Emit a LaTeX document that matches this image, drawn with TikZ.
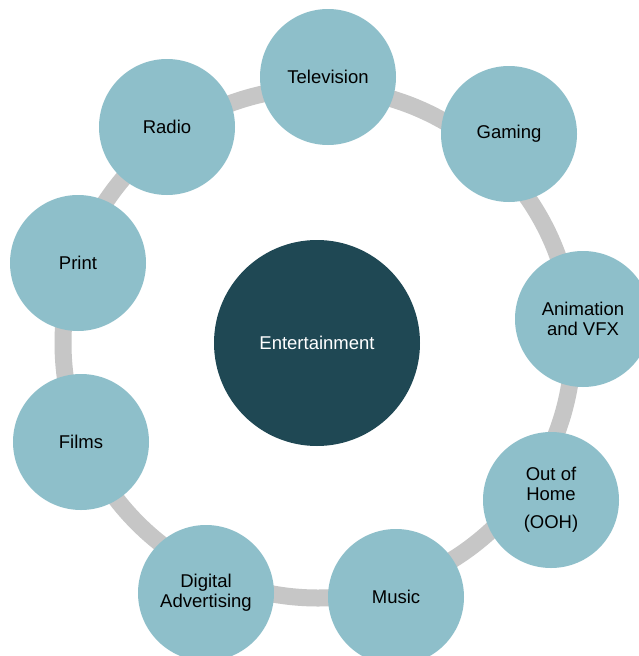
\documentclass[tikz,border=0pt]{standalone}
\usepackage{fontspec}
\setmainfont{Liberation Sans}
\definecolor{petal}{HTML}{8EBFCA}
\definecolor{hub}{HTML}{1F4854}
\definecolor{ringgray}{HTML}{C6C6C6}
\begin{document}
\begin{tikzpicture}[x=1pt,y=-1pt,
  petalnode/.style={circle,fill=petal,minimum size=136pt,inner sep=0pt,align=center,
    font=\fontsize{18.5}{20}\selectfont,text=black},
  hubnode/.style={circle,fill=hub,minimum size=206pt,inner sep=0pt,align=center,
    font=\fontsize{18.5}{20}\selectfont,text=white},
  ringline/.style={draw=ringgray,line width=17pt}]
\useasboundingbox[fill=white] (0,0) rectangle (638,656);
\coordinate (ringc) at (318,343);
\draw[ringline] (ringc) circle (255);
\node[hubnode] (hub) at (317,343) {Entertainment};
\node[petalnode] (tv) at (328,77) {Television};
\node[petalnode] (gaming) at (509,134) {Gaming};
\node[petalnode] (anim) at (583,319) {Animation\\and VFX};
\node[petalnode] (ooh) at (551,500) {Out of\\Home\\[8pt](OOH)};
\node[petalnode] (music) at (396,597) {Music};
\node[petalnode] (digital) at (206,593) {Digital\\Advertising};
\node[petalnode] (films) at (81,442) {Films};
\node[petalnode] (print) at (78,263) {Print};
\node[petalnode] (radio) at (167,127) {Radio};
\end{tikzpicture}
\end{document}
